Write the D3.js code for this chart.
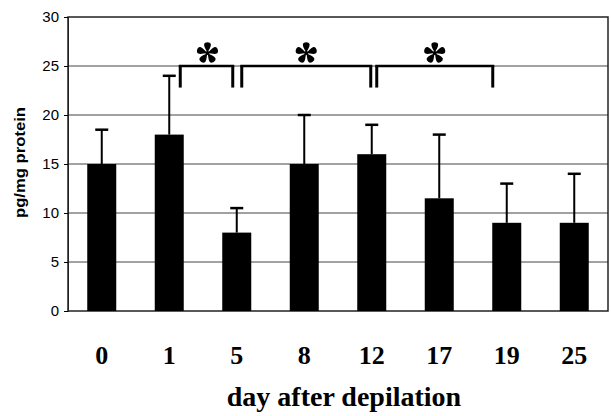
<!DOCTYPE html>
<html><head><meta charset="utf-8">
<script src="https://cdn.jsdelivr.net/npm/d3@7"></script>
<style>body{margin:0;background:#fff}</style>
</head><body>
<svg id="c" width="611" height="416"></svg>
<script>
const days = ["0","1","5","8","12","17","19","25"];
const means = [15, 18, 8, 15, 16, 11.5, 9, 9];
const upperErr = [18.5, 24, 10.5, 20, 19, 18, 13, 14];
const yTicks = [0,5,10,15,20,25,30];
// significance brackets: [from category, to category]
const brackets = [["1","5"],["5","12"],["12","19"]];
const bracketValues = [25, 25, 25];
const bracketDrop = 22.8;

const svg = d3.select("#c");
const m = {l:68, r:608, t:17, b:311};
const x = d3.scaleBand().domain(days).range([m.l, m.r]).paddingInner(0).paddingOuter(0);
const y = d3.scaleLinear().domain([0,30]).range([m.b, m.t]);
const bw = 29;

// gridlines
svg.append("g").selectAll("line").data(yTicks.filter(d=>d>0&&d<30)).join("line")
  .attr("x1", m.l).attr("x2", m.r).attr("y1", d=>y(d)).attr("y2", d=>y(d))
  .attr("stroke", "#444").attr("stroke-width", 1);

// frame
svg.append("rect").attr("x", m.l).attr("y", m.t).attr("width", m.r-m.l).attr("height", m.b-m.t)
  .attr("fill","none").attr("stroke","#222").attr("stroke-width",1.5);

// y axis
const yAxis = svg.append("g").attr("transform",`translate(${m.l},0)`)
  .call(d3.axisLeft(y).tickValues(yTicks).tickSize(4).tickPadding(5));
yAxis.select(".domain").attr("stroke","#222");
yAxis.selectAll("text").attr("font-family","'Liberation Sans', Arial, sans-serif").attr("font-size",15).attr("fill","#000");

// error bars
const cx = d => x(d) + x.bandwidth()/2;
const eg = svg.append("g");
eg.selectAll("line.v").data(days).join("line").attr("class","v")
  .attr("x1", cx).attr("x2", cx).attr("y1",(d,i)=>y(means[i])).attr("y2",(d,i)=>y(upperErr[i]))
  .attr("stroke","#000").attr("stroke-width",2);
eg.selectAll("line.c").data(days).join("line").attr("class","c")
  .attr("x1", d=>cx(d)-6.5).attr("x2", d=>cx(d)+6.5).attr("y1",(d,i)=>y(upperErr[i])).attr("y2",(d,i)=>y(upperErr[i]))
  .attr("stroke","#000").attr("stroke-width",2.5);

// bars
svg.append("g").selectAll("rect").data(days).join("rect")
  .attr("x", d=>cx(d)-bw/2).attr("width", bw)
  .attr("y",(d,i)=>y(means[i])).attr("height",(d,i)=>y(0)-y(means[i]))
  .attr("fill","#000");

// brackets
const bx = [[cx("1")+11, cx("5")-4],[cx("5")+5, cx("12")-1],[cx("12")+5, cx("19")-14]];
const bg = svg.append("g");
brackets.forEach((b,i)=>{
  const [x1,x2] = bx[i];
  const yt = y(bracketValues[i]), yb = y(bracketDrop);
  bg.append("path").attr("d",`M${x1},${yb}V${yt}`).attr("stroke","#000").attr("stroke-width",3);
  bg.append("path").attr("d",`M${x2},${yb}V${yt}`).attr("stroke","#000").attr("stroke-width",3);
  bg.append("path").attr("d",`M${x1-1.5},${yt}H${x2+1.5}`).attr("stroke","#000").attr("stroke-width",2.5);
  // star
  const sx = (x1+x2)/2 + (i==0?1:0), sy = yt-13;
  const st = bg.append("g").attr("transform",`translate(${sx},${sy})`);
  for(let k=0;k<5;k++){
    st.append("path").attr("transform",`rotate(${k*72})`)
      .attr("d","M0,0 C-1,-3 -3.6,-6 -3.4,-8.6 C-3.1,-11.6 3.1,-11.6 3.4,-8.6 C3.6,-6 1,-3 0,0Z").attr("fill","#000");
  }
  st.append("circle").attr("r",2).attr("fill","#000");
});

// x labels
svg.append("g").selectAll("text").data(days).join("text")
  .attr("x", cx).attr("y", 364).attr("text-anchor","middle")
  .attr("font-family","'Liberation Serif','Times New Roman',serif").attr("font-weight","bold").attr("font-size",26)
  .text(d=>d);

svg.append("text").attr("x", 344).attr("y", 406).attr("text-anchor","middle")
  .attr("font-family","'Liberation Serif','Times New Roman',serif").attr("font-weight","bold").attr("font-size",28)
  .text("day after depilation");

svg.append("text").attr("transform","translate(25,162.5) rotate(-90)").attr("text-anchor","middle")
  .attr("font-family","'Liberation Sans', Arial, sans-serif").attr("font-weight","bold").attr("font-size",14)
  .attr("textLength",111).attr("lengthAdjust","spacingAndGlyphs")
  .text("pg/mg protein");
</script>
</body></html>
